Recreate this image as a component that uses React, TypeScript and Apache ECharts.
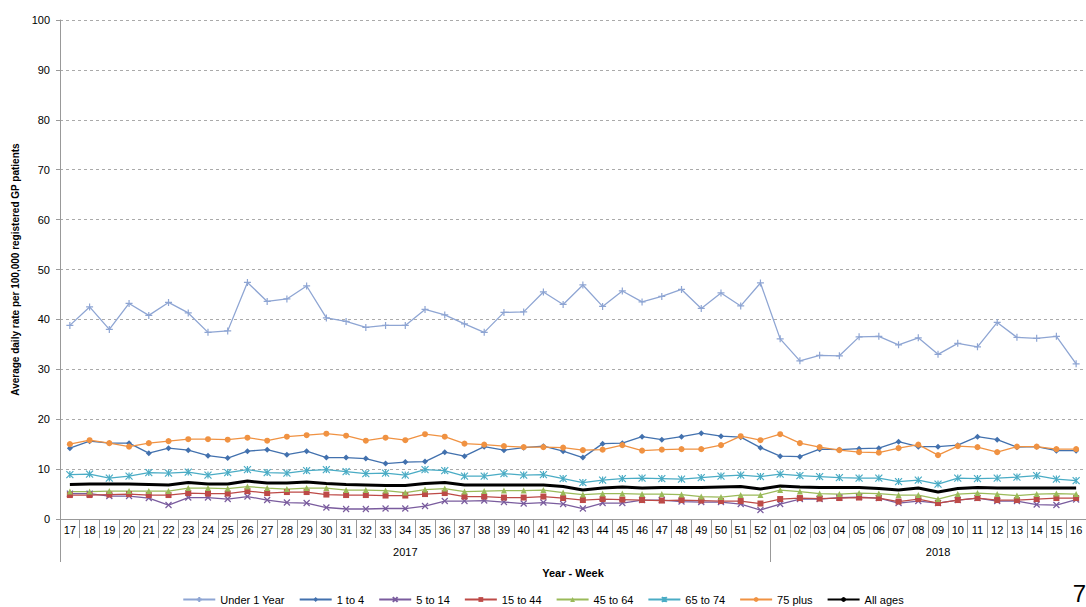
import React, { useEffect, useRef } from 'react'
import * as echarts from 'echarts'

const weeks = [
  '17', '18', '19', '20', '21', '22', '23', '24', '25', '26', '27', '28', '29', '30', '31', '32', '33', '34',
  '35', '36', '37', '38', '39', '40', '41', '42', '43', '44', '45', '46', '47', '48', '49', '50', '51', '52',
  '01', '02', '03', '04', '05', '06', '07', '08', '09', '10', '11', '12', '13', '14', '15', '16',
]
const years = ['2017', '2018']
const weeksIn2017 = 36

const under1 = [
  38.8, 42.5, 38, 43.2, 40.8, 43.4, 41.3, 37.4, 37.7, 47.4, 43.6, 44.1, 46.7, 40.3, 39.6, 38.4, 38.8, 38.8,
  42, 40.9, 39.1, 37.4, 41.4, 41.5, 45.5, 43, 46.9, 42.6, 45.7, 43.5, 44.6, 46, 42.2, 45.3, 42.7, 47.3,
  36.1, 31.7, 32.8, 32.7, 36.5, 36.6, 34.9, 36.3, 33, 35.2, 34.5, 39.4, 36.4, 36.2, 36.6, 31.1,
]
const age1to4 = [
  14.2, 15.6, 15.2, 15.2, 13.2, 14.2, 13.8, 12.7, 12.2, 13.6, 13.9, 12.9, 13.6, 12.3, 12.3, 12.1, 11.1, 11.4,
  11.5, 13.4, 12.6, 14.5, 13.8, 14.3, 14.6, 13.6, 12.3, 15.1, 15.2, 16.5, 15.9, 16.5, 17.2, 16.6, 16.4, 14.3,
  12.6, 12.5, 14, 13.9, 14.1, 14.2, 15.5, 14.5, 14.5, 14.8, 16.5, 15.9, 14.4, 14.5, 13.7, 13.7,
]
const age5to14 = [
  5.1, 5.1, 4.6, 4.6, 4.2, 2.8, 4.3, 4.3, 4, 4.5, 3.8, 3.3, 3.2, 2.3, 2, 2, 2.1, 2.1,
  2.6, 3.6, 3.6, 3.7, 3.4, 3.1, 3.3, 3, 2.1, 3.2, 3.2, 3.8, 3.8, 3.5, 3.4, 3.4, 3, 1.8,
  3, 4, 4, 4.3, 4.4, 4.2, 3.2, 3.6, 3.2, 3.8, 4.2, 3.6, 3.6, 2.9, 2.8, 3.9,
]
const age15to44 = [
  4.8, 4.8, 4.9, 5, 4.8, 4.8, 5.2, 5.1, 5.1, 5.6, 5.2, 5.4, 5.4, 4.9, 4.8, 4.8, 4.7, 4.7,
  5, 5.2, 4.5, 4.5, 4.3, 4.3, 4.5, 4.2, 3.8, 4, 3.9, 3.8, 3.7, 3.8, 3.7, 3.6, 3.6, 3.1,
  4, 4.2, 4.1, 4.2, 4.3, 4.2, 3.5, 4, 3.2, 3.8, 4.2, 3.8, 3.8, 4, 4.2, 4.2,
]
const age45to64 = [
  5.5, 5.5, 5.6, 5.6, 5.6, 5.6, 6.2, 6.2, 6.1, 6.5, 6.2, 6, 6.2, 6.2, 5.8, 5.8, 5.7, 5.3,
  5.9, 6.1, 5.5, 5.6, 5.7, 5.7, 5.8, 5.3, 4.9, 5.1, 5.1, 5, 5, 4.9, 4.5, 4.4, 4.8, 4.8,
  5.8, 5.5, 5.1, 5, 5.2, 5.1, 4.8, 4.8, 4, 5, 5.2, 5, 4.7, 5, 5.1, 5,
]
const age65to74 = [
  8.9, 9, 8.2, 8.6, 9.3, 9.2, 9.4, 8.8, 9.3, 9.9, 9.3, 9.2, 9.7, 9.9, 9.5, 9.1, 9.2, 8.8,
  9.9, 9.7, 8.6, 8.6, 9.1, 8.8, 8.9, 8.1, 7.3, 7.8, 8.1, 8.2, 8.1, 8, 8.3, 8.6, 8.8, 8.5,
  9, 8.7, 8.5, 8.3, 8.2, 8.2, 7.5, 7.8, 7, 8.2, 8.1, 8.2, 8.4, 8.7, 8, 7.7,
]
const age75plus = [
  15, 15.8, 15.2, 14.5, 15.2, 15.6, 16, 16, 15.9, 16.3, 15.7, 16.5, 16.8, 17.1, 16.7, 15.7, 16.3, 15.8,
  17, 16.5, 15.1, 14.9, 14.6, 14.4, 14.4, 14.3, 13.8, 13.9, 14.8, 13.7, 13.9, 14, 14, 14.8, 16.6, 15.8,
  17, 15.2, 14.4, 13.8, 13.4, 13.3, 14.2, 14.9, 12.8, 14.6, 14.4, 13.4, 14.5, 14.5, 14, 14,
]
const allAges = [
  6.9, 7, 7, 7, 6.9, 6.8, 7.3, 7, 7, 7.6, 7.2, 7.2, 7.4, 7.1, 6.9, 6.8, 6.7, 6.7,
  7.1, 7.3, 6.8, 6.8, 6.8, 6.8, 6.8, 6.5, 5.8, 6.2, 6.4, 6.2, 6.3, 6.3, 6.3, 6.4, 6.5, 6,
  6.6, 6.4, 6.3, 6.3, 6.3, 6.1, 5.8, 6.2, 5.4, 6.1, 6.3, 6.2, 6.2, 6.2, 6.2, 6.2,
]

const PLUS = 'path://M0,5L10,5M5,0L5,10'
const CROSS = 'path://M0,0L10,10M10,0L0,10'
const STAR = 'path://M0,0L10,10M10,0L0,10M5,0L5,10'

const seriesDefs = [
  { name: 'Under 1 Year', data: under1, color: '#8EA5D3', symbol: PLUS, size: 7, stroke: true },
  { name: '1 to 4', data: age1to4, color: '#4271AE', symbol: 'diamond', size: 6, stroke: false },
  { name: '5 to 14', data: age5to14, color: '#7A5C9E', symbol: CROSS, size: 6, stroke: true },
  { name: '15 to 44', data: age15to44, color: '#BD4A47', symbol: 'rect', size: 6, stroke: false },
  { name: '45 to 64', data: age45to64, color: '#9ABA59', symbol: 'triangle', size: 6, stroke: false },
  { name: '65 to 74', data: age65to74, color: '#4AACC5', symbol: STAR, size: 7, stroke: true },
  { name: '75 plus', data: age75plus, color: '#F09242', symbol: 'circle', size: 6, stroke: false },
]

const FONT = '"Liberation Sans", Arial, sans-serif'

const App: React.FC = () => {
  const chartRef = useRef<HTMLDivElement>(null)

  useEffect(() => {
    document.body.style.margin = '0'
    if (!chartRef.current) return
    const chart = echarts.init(chartRef.current, undefined, { renderer: 'svg' })

    const series: any[] = seriesDefs.map((s) => ({
      name: s.name,
      type: 'line',
      xAxisIndex: 0,
      yAxisIndex: 0,
      data: s.data,
      symbol: s.symbol,
      symbolSize: s.size,
      lineStyle: { color: s.color, width: 1.3 },
      itemStyle: { color: s.color, borderColor: s.color, borderWidth: s.stroke ? 1.2 : 0 },
    }))
    series.push({
      name: 'All ages',
      type: 'line',
      xAxisIndex: 0,
      yAxisIndex: 0,
      data: allAges,
      symbol: 'none',
      lineStyle: { color: '#000', width: 3 },
      itemStyle: { color: '#000' },
    })

    const yearCats = weeks.map((_, i) => (i < weeksIn2017 ? years[0] : years[1]))

    chart.setOption({
      animation: false,
      textStyle: { fontFamily: FONT },
      grid: { left: 60, right: -7, top: 20, bottom: 88 },
      legend: {
        bottom: -3,
        left: 'center',
        itemWidth: 32,
        itemHeight: 6,
        itemGap: 14,
        textStyle: { fontSize: 11, color: '#000', fontFamily: FONT },
        data: [...seriesDefs.map((s) => s.name), 'All ages'],
      },
      xAxis: [
        {
          type: 'category',
          data: weeks,
          boundaryGap: true,
          axisLine: { lineStyle: { color: '#999' } },
          axisTick: { show: true, interval: 0, length: 19, lineStyle: { color: '#999' } },
          axisLabel: { interval: 0, color: '#000', fontSize: 11, margin: 5 },
          name: 'Year - Week',
          nameLocation: 'middle',
          nameGap: 48,
          nameTextStyle: { fontWeight: 'bold', fontSize: 11, color: '#000' },
        },
        {
          type: 'category',
          data: yearCats,
          position: 'bottom',
          boundaryGap: true,
          axisLine: { show: false },
          axisTick: {
            show: true,
            interval: (i: number) => i === 0 || i === weeksIn2017,
            length: 43,
            lineStyle: { color: '#999' },
          },
          axisLabel: {
            interval: (i: number) => i === 17 || i === 44,
            color: '#000',
            fontSize: 11,
            margin: 27,
          },
        },
      ],
      yAxis: {
        type: 'value',
        min: 0,
        max: 100,
        interval: 10,
        axisLine: { show: true, lineStyle: { color: '#999' } },
        axisTick: { show: true, length: 4, lineStyle: { color: '#999' } },
        axisLabel: { color: '#000', fontSize: 11, margin: 10 },
        splitLine: { lineStyle: { color: '#aaa', type: [3, 3] } },
        name: 'Average daily rate per 100,000 registered GP patients',
        nameLocation: 'middle',
        nameGap: 36,
        nameTextStyle: { fontWeight: 'bold', fontSize: 10, color: '#000' },
      },
      graphic: [
        { type: 'text', right: 0, bottom: 2, style: { text: '7', fontSize: 24, fill: '#000', fontFamily: FONT } },
      ],
      series,
    })

    return () => chart.dispose()
  }, [])

  return <div ref={chartRef} style={{ width: 1086, height: 607 }} />
}

export default App
